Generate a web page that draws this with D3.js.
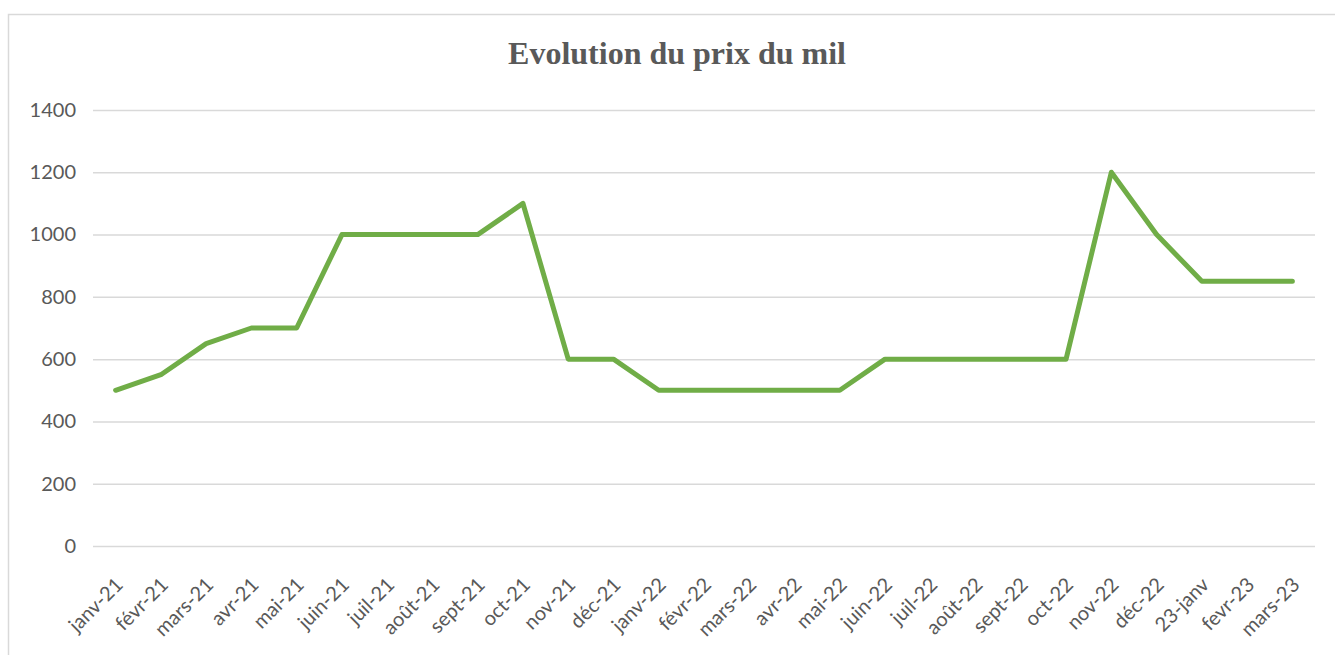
<!DOCTYPE html>
<html>
<head>
<meta charset="utf-8">
<script src="https://cdn.jsdelivr.net/npm/d3@7"></script>
<style>
  body { margin: 0; background: #fff; }
  svg { display: block; }
</style>
</head>
<body>
<div class="chart"></div>
<script>
var W = 1335, H = 655;
var margin = {top: 110, right: 20, bottom: 109, left: 93},
    width = 1315 - margin.left,
    height = 546 - margin.top;

var title = "Evolution du prix du mil";

var months = ["janv-21","févr-21","mars-21","avr-21","mai-21","juin-21","juil-21","août-21","sept-21","oct-21",
  "nov-21","déc-21","janv-22","févr-22","mars-22","avr-22","mai-22","juin-22","juil-22","août-22",
  "sept-22","oct-22","nov-22","déc-22","23-janv","fevr-23","mars-23"];

var prices = [500,550,650,700,700,1000,1000,1000,1000,1100,
  600,600,500,500,500,500,500,600,600,600,
  600,600,1200,1000,850,850,850];

var yTicks = [0,200,400,600,800,1000,1200,1400];

var data = months.map(function(m, i) { return {month: m, price: prices[i]}; });

var svg = d3.select(".chart").append("svg")
    .attr("width", W)
    .attr("height", H);

// outer chart frame (runs off the right and bottom of the picture)
svg.append("rect")
    .attr("x", 8.5).attr("y", 14.5)
    .attr("width", 1340).attr("height", 660)
    .attr("fill", "none")
    .attr("stroke", "#d9d9d9")
    .attr("stroke-width", 1.5);

svg.append("text")
    .attr("x", 677).attr("y", 64)
    .attr("text-anchor", "middle")
    .style("font-family", "'Liberation Serif', 'Times New Roman', serif")
    .style("font-weight", "bold")
    .style("font-size", "32px")
    .style("fill", "#595959")
    .text(title);

var g = svg.append("g")
    .attr("transform", "translate(" + margin.left + "," + margin.top + ")");

var xScale = d3.scalePoint()
    .domain(months)
    .range([0, width])
    .padding(0.5);

var yScale = d3.scaleLinear()
    .domain([0, 1400])
    .range([height, 0]);

// gridlines
var yAxis = d3.axisLeft(yScale)
    .tickValues(yTicks)
    .tickFormat(d3.format("d"))
    .tickSize(-width)
    .tickPadding(17);

var yG = g.append("g").call(yAxis);
yG.select(".domain").remove();
yG.selectAll(".tick line").attr("stroke", "#d9d9d9").attr("stroke-width", 1.5);
yG.selectAll(".tick text")
    .style("font-family", "Lato, 'Open Sans', sans-serif")
    .style("font-size", "20px")
    .style("fill", "#595959");

var xAxis = d3.axisBottom(xScale).tickSize(0).tickPadding(0);
var xG = g.append("g")
    .attr("transform", "translate(0," + height + ")")
    .call(xAxis);
xG.select(".domain").remove();
xG.selectAll(".tick text")
    .attr("text-anchor", "end")
    .attr("dy", 0)
    .attr("transform", "translate(8,40) rotate(-45)")
    .style("font-family", "Lato, 'Open Sans', sans-serif")
    .style("font-size", "20px")
    .style("fill", "#595959");

var line = d3.line()
    .x(function(d) { return xScale(d.month); })
    .y(function(d) { return yScale(d.price); });

g.append("path")
    .datum(data)
    .attr("d", line)
    .attr("fill", "none")
    .attr("stroke", "#70ad47")
    .attr("stroke-width", 5)
    .attr("stroke-linecap", "round")
    .attr("stroke-linejoin", "round");
</script>
</body>
</html>
